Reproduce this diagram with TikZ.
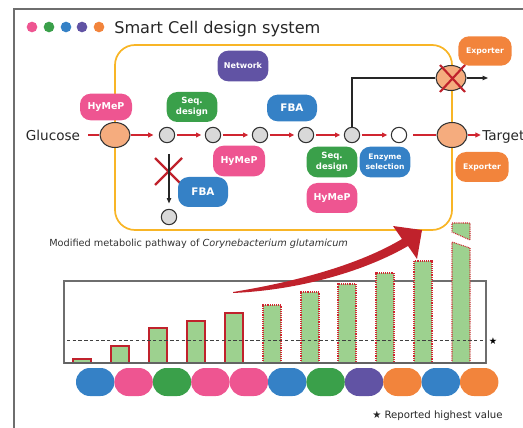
\documentclass[tikz,border=0pt]{standalone}
\usepackage{fontspec}
\setmainfont{DejaVu Sans}
\usetikzlibrary{arrows.meta,shapes.geometric}
\definecolor{cpink}{HTML}{EE5591}
\definecolor{cgreen}{HTML}{3AA04A}
\definecolor{cblue}{HTML}{3581C6}
\definecolor{cpurple}{HTML}{6153A4}
\definecolor{corange}{HTML}{F2843C}
\definecolor{cframe}{HTML}{F8B526}
\definecolor{cred}{HTML}{D02530}
\definecolor{cdred}{HTML}{C0222C}
\definecolor{csalmon}{HTML}{F5AC7E}
\definecolor{cbar}{HTML}{9DD18F}
\definecolor{cgrey}{HTML}{D9D9D9}
\definecolor{cline}{HTML}{6E6E6E}
\begin{document}
\begin{tikzpicture}[x=0.75pt,y=-0.75pt,
  lab/.style={rounded corners=8pt, text=white, align=center, inner sep=0pt},
  ell/.style={ellipse, draw=black!80, fill=csalmon, line width=0.8pt, minimum width=22.5pt, minimum height=18.75pt, inner sep=0pt},
  met/.style={circle, draw=black!80, fill=cgrey, line width=0.8pt, minimum size=11.5pt, inner sep=0pt},
  redln/.style={draw=cred, line width=0.9pt},
  redarr/.style={draw=cred, line width=0.9pt, -{Triangle[length=4pt,width=3.6pt]}, shorten <=1pt, shorten >=2.6pt},
  blkln/.style={draw=black!85, line width=0.8pt},
  blkarr/.style={draw=black!85, line width=0.8pt, -{Triangle[length=4pt,width=3.2pt]}},
  xmark/.style={draw=cdred, line width=1.6pt},
  solidbar/.style={fill=cbar, draw=cdred, line width=1.1pt},
  dotbar/.style={fill=cbar, draw=cred, line width=0.8pt, dash pattern=on 0.7pt off 0.7pt},
]
\useasboundingbox (0,0) rectangle (523,427);
% outer frame
\draw[cline, line width=1.1pt] (14,430) -- (14,9) -- (526,9);
% title
\fill[cpink] (32,27) circle (4pt);
\fill[cgreen] (49,27) circle (4pt);
\fill[cblue] (66,27) circle (4pt);
\fill[cpurple] (82,27) circle (4pt);
\fill[corange] (99,27) circle (4pt);
\node[anchor=base west, font=\fontsize{12.1}{14}\selectfont, inner sep=0pt, text=black!85] (title) at (114,34) {Smart Cell design system};
% cell frame
\draw[cframe, line width=1.3pt, rounded corners=15pt] (115,45) rectangle (452,230);
% red X on branch
\draw[xmark] (155,158) -- (182,185) (155,185) -- (182,158);
% labels
\node[lab, fill=cpink, minimum width=39pt, minimum height=20pt, font=\bfseries\fontsize{7.1}{8}\selectfont] (hy1) at (106,107) {HyMeP};
\node[lab, fill=cgreen, minimum width=38pt, minimum height=22.5pt, font=\bfseries\fontsize{6.4}{8.6}\selectfont] (sq1) at (192,107) {Seq.\\design};
\node[lab, fill=cblue, minimum width=37.5pt, minimum height=20pt, font=\bfseries\fontsize{7.8}{9}\selectfont] (fba1) at (292,108) {FBA};
\node[lab, fill=cpurple, minimum width=38pt, minimum height=23pt, font=\bfseries\fontsize{6}{7}\selectfont] (net) at (243,66) {Network};
\node[lab, fill=corange, minimum width=40pt, minimum height=22pt, font=\bfseries\fontsize{5.8}{7}\selectfont] (exp1) at (485,51) {Exporter};
\node[lab, fill=corange, minimum width=40pt, minimum height=22.5pt, font=\bfseries\fontsize{5.8}{7}\selectfont] (exp2) at (482,167) {Exporter};
\node[lab, fill=cblue, minimum width=37.5pt, minimum height=22.5pt, font=\bfseries\fontsize{7.8}{9}\selectfont] (fba2) at (203,192) {FBA};
\node[lab, fill=cpink, minimum width=39pt, minimum height=23pt, font=\bfseries\fontsize{7.1}{8}\selectfont] (hy2) at (239,161) {HyMeP};
\node[lab, fill=cgreen, minimum width=38pt, minimum height=23pt, font=\bfseries\fontsize{6.4}{8.6}\selectfont] (sq2) at (332,162) {Seq.\\design};
\node[lab, fill=cblue, minimum width=38pt, minimum height=23pt, font=\bfseries\fontsize{5.7}{7.4}\selectfont] (enz) at (385,162) {Enzyme\\selection};
\node[lab, fill=cpink, minimum width=38pt, minimum height=22.5pt, font=\bfseries\fontsize{7.1}{8}\selectfont] (hy3) at (332,198) {HyMeP};
% pathway nodes
\node[inner sep=0pt, font=\fontsize{10.2}{12}\selectfont, text=black!85] (glu) at (53,135) {Glucose};
\node[ell] (e1) at (115,135) {};
\node[met] (c1) at (167,135) {};
\node[met] (c2) at (213,135) {};
\node[met] (c3) at (260,135) {};
\node[met] (c4) at (306,135) {};
\node[met] (c5) at (352,135) {};
\node[met, fill=white] (c6) at (399,135) {};
\node[ell] (e2) at (452,135) {};
\node[anchor=base west, inner sep=0pt, font=\fontsize{10.2}{12}\selectfont, text=black!85] (tgt) at (482,141) {Target};
\node[ell] (x1) at (451,78) {};
\node[met] (c7) at (169,217) {};
\coordinate (xend) at (488,78);
% connectors
\draw[redln, shorten <=6pt] (glu) -- (e1);
\draw[redarr, shorten <=0pt, shorten >=4pt] (e1) -- (c1);
\draw[redarr] (c1) -- (c2);
\draw[redarr] (c2) -- (c3);
\draw[redarr] (c3) -- (c4);
\draw[redarr] (c4) -- (c5);
\draw[redarr] (c5) -- (c6);
\draw[redln, shorten <=4.5pt] (c6) -- (e2);
\draw[redarr, shorten <=0pt, shorten >=1pt] (e2) -- (e2 -| tgt.west);
\draw[blkln] (c5) |- (x1);
\draw[blkarr] (x1) -- (xend);
\draw[blkarr, shorten <=8pt, shorten >=4pt] (c1.south -| c7.north) -- (c7.north);
% X on exporter branch
\draw[xmark] (440,65) -- (465,92) (440,92) -- (465,65);
% caption
\node[anchor=base west, inner sep=0pt, font=\fontsize{7.3}{9}\selectfont, text=black!80] (cap) at (49,246) {Modified metabolic pathway of \textit{Corynebacterium glutamicum}};
% chart
\draw[cline, line width=0.8pt] (64,363) rectangle (486,281);
\foreach \x/\t in {82/359,120/346,158/328,196/321,234/313}
  \draw[solidbar] (\x-9,363) rectangle (\x+9,\t);
\foreach \x/\t in {272/305,310/292,347/284,385/273,423/261}
  \draw[dotbar] (\x-9,363) rectangle (\x+9,\t);
\draw[dotbar] (452,363) -- (452,242) -- (470,248) -- (470,363) -- cycle;
\draw[dotbar] (452,223) -- (470,223) -- (470,240) -- (452,232) -- cycle;
\draw[black!75, line width=0.7pt, dash pattern=on 2.5pt off 1.8pt] (67,340) -- (485,340);
\draw[cline!90!black, line width=1.5pt] (64,363) -- (486,363);
\node[inner sep=0pt, font=\fontsize{7}{8}\selectfont] (star) at (493,341) {★};
% big arrow
\fill[cdred] (233,292) .. controls (300,281) and (360,264) .. (402,239) -- (393,226) -- (422,230) -- (417,259) -- (408,246) .. controls (365,271) and (300,290) .. (233,293) -- cycle;
% pills
\foreach \c [count=\i from 0] in {cblue,cpink,cgreen,cpink,cpink,cblue,cgreen,cpurple,corange,cblue,corange}
  \fill[\c, rounded corners=10.4pt] ({95.2+38.4*\i-19.2},368) rectangle ({95.2+38.4*\i+19.2},396);
\node[anchor=base west, inner sep=0pt, font=\fontsize{7.6}{9}\selectfont, text=black!85] (rep) at (372,418) {★ Reported highest value};
\end{tikzpicture}
\end{document}
